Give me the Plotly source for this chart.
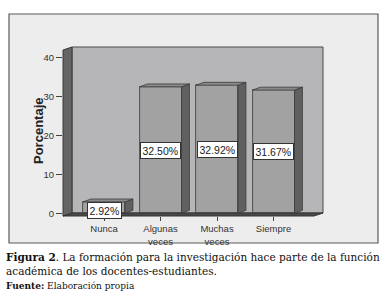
import plotly.graph_objects as go

categories = ["Nunca", "Algunas<br>veces", "Muchas<br>veces", "Siempre"]
values = [2.92, 32.50, 32.92, 31.67]
labels = ["2.92%", "32.50%", "32.92%", "31.67%"]
y_ticks = [0, 10, 20, 30, 40]

W, H = 390, 298
L, R, T, B = 63, 323, 47, 216  # plot area in px
x0r, x1r = -0.726, 3.876
y0r, y1r = -0.7, 42.75

def px_x(p):
    return (p - L) / (R - L)

def px_y(p):
    return (B - p) / (B - T)

bar_w = 0.743
dx = 0.14   # depth in x units
dy = 0.75   # depth in y units

FRONT = "#a2a2a2"
SIDE = "#606060"
TOP = "#8a8a8a"
EDGE = "#3a3a3a"

fig = go.Figure()

xs = list(range(len(values)))
for xi, v in zip(xs, values):
    xr = xi + bar_w / 2
    fig.add_trace(go.Scatter(
        x=[xr, xr + dx, xr + dx, xr, xr],
        y=[0, dy, v + dy, v, 0],
        fill="toself", fillcolor=SIDE, mode="lines",
        line=dict(color=EDGE, width=0.8), hoverinfo="skip", showlegend=False))
    xl = xi - bar_w / 2
    fig.add_trace(go.Scatter(
        x=[xl, xr, xr + dx, xl + dx, xl],
        y=[v, v, v + dy, v + dy, v],
        fill="toself", fillcolor=TOP, mode="lines",
        line=dict(color=EDGE, width=0.8), hoverinfo="skip", showlegend=False))

fig.add_trace(go.Bar(
    x=xs, y=values, width=bar_w,
    marker=dict(color=FRONT, line=dict(color=EDGE, width=0.8)),
    hoverinfo="skip", showlegend=False))

for xi, v, t in zip(xs, values, labels):
    fig.add_annotation(x=xi, y=v / 2 if v > 5 else 0.7, text=t, showarrow=False,
                       font=dict(family="Liberation Sans, Arial", size=10.5, color="#222"),
                       bgcolor="white", bordercolor="#333", borderwidth=1, borderpad=1.5)

shapes = []
shapes.append(dict(type="rect", xref="paper", yref="paper",
                   x0=px_x(9), x1=px_x(378), y0=px_y(243), y1=px_y(14),
                   fillcolor="#ededed", line=dict(color="#5a5a5a", width=1.2), layer="below"))
shapes.append(dict(type="rect", xref="paper", yref="paper",
                   x0=px_x(72), x1=px_x(323), y0=px_y(213), y1=px_y(47),
                   fillcolor="#b6b6b9", line=dict(color="#4a4a4a", width=1), layer="below"))
shapes.append(dict(type="path", xref="paper", yref="paper",
                   path=f"M {px_x(63)} {px_y(50)} L {px_x(72)} {px_y(47)} L {px_x(72)} {px_y(213)} L {px_x(63)} {px_y(216)} Z",
                   fillcolor="#646464", line=dict(color="#3a3a3a", width=1), layer="below"))
shapes.append(dict(type="path", xref="paper", yref="paper",
                   path=f"M {px_x(63)} {px_y(216)} L {px_x(72)} {px_y(213)} L {px_x(323)} {px_y(213)} L {px_x(314)} {px_y(216)} Z",
                   fillcolor="#4a4a4a", line=dict(color="#333", width=1), layer="below"))

fig.update_layout(
    width=W, height=H,
    margin=dict(l=L, r=W - R, t=T, b=H - B),
    paper_bgcolor="white", plot_bgcolor="rgba(0,0,0,0)",
    shapes=shapes,
    bargap=0,
    xaxis=dict(range=[x0r, x1r], tickvals=xs, ticktext=categories,
               showgrid=False, zeroline=False, showline=False,
               ticks="outside", ticklen=4, tickcolor="#444",
               tickfont=dict(family="Liberation Sans, Arial", size=9.5, color="#333")),
    yaxis=dict(range=[y0r, y1r], tickvals=y_ticks,
               showgrid=False, zeroline=False, showline=False,
               ticks="outside", ticklen=6, tickcolor="#444",
               tickfont=dict(family="Liberation Sans, Arial", size=9.5, color="#333")),
)

fig.add_annotation(xref="paper", yref="paper", x=px_x(38.5), y=px_y(131.5), textangle=-90,
                   xanchor="center", yanchor="middle",
                   showarrow=False, text="<b>Porcentaje</b>",
                   font=dict(family="Liberation Sans, Arial", size=13, color="#222"))

serif = "DejaVu Serif"
fig.add_annotation(xref="paper", yref="paper", x=px_x(4), y=px_y(249), xanchor="left", yanchor="top",
                   showarrow=False, align="left",
                   text="<b>Figura 2</b>. La formación para la investigación hace parte de la función<br>académica de los docentes-estudiantes.",
                   font=dict(family=serif, size=10.5, color="#111"))
fig.add_annotation(xref="paper", yref="paper", x=px_x(4), y=px_y(279), xanchor="left", yanchor="top",
                   showarrow=False,
                   text="<b>Fuente:</b> Elaboración propia",
                   font=dict(family=serif, size=9, color="#111"))

fig.write_html("out.html", config={"displayModeBar": False},
               post_script="document.body.style.margin='0';")
